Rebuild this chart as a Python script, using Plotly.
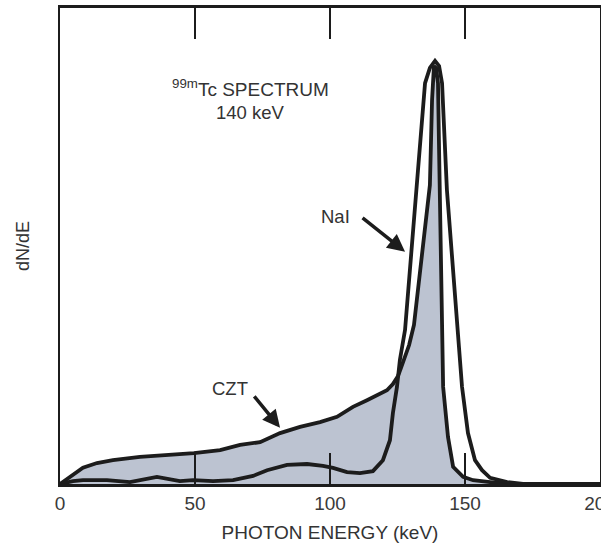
import plotly.graph_objects as go

# Tick labels / categories
x_ticks = [0, 50, 100, 150, 200]
x_tick_labels = ["0", "50", "100", "150", "200"]

# NaI spectrum (energy keV, relative dN/dE)
nai_energy = [0, 4.8, 8.5, 17.4, 25.9, 35.9, 44.4, 49.3, 56.7, 64.1, 71.5, 76.7, 84.1,
              91.5, 97.4, 101.1, 106.3, 111.1, 115.9, 119.6, 122.2, 123.3, 124.8, 125.9,
              127.8, 130.0, 132.2, 135.2, 137.0, 138.9, 140.4, 141.5, 143.3, 145.2, 147.0,
              148.9, 151.1, 153.7, 156.3, 159.3, 165.6, 171.5, 200]
nai_counts = [0, 0.006, 0.008, 0.008, 0.004, 0.015, 0.006, 0.008, 0.006, 0.008, 0.017,
              0.029, 0.040, 0.042, 0.038, 0.034, 0.025, 0.023, 0.027, 0.050, 0.092, 0.149,
              0.204, 0.261, 0.324, 0.481, 0.628, 0.842, 0.874, 0.889, 0.878, 0.842, 0.618,
              0.481, 0.345, 0.204, 0.107, 0.050, 0.029, 0.013, 0.004, 0, 0]

# CZT spectrum (energy keV, relative dN/dE)
czt_energy = [0, 4.8, 8.5, 13.7, 19.6, 29.6, 41.9, 49.6, 59.3, 66.7, 74.1, 81.5, 88.9,
              96.3, 102.6, 108.5, 113.7, 121.1, 123.3, 125.2, 126.3, 129.3, 131.1, 134.1,
              137.0, 137.8, 138.5, 139.3, 140.0, 140.4, 140.7, 141.5, 141.9, 143.7, 145.6,
              149.3, 153.0, 159.3, 166.7, 200]
czt_counts = [0, 0.019, 0.034, 0.044, 0.050, 0.057, 0.061, 0.065, 0.071, 0.082, 0.088,
              0.107, 0.120, 0.130, 0.141, 0.162, 0.176, 0.197, 0.210, 0.227, 0.244, 0.292,
              0.334, 0.481, 0.628, 0.807, 0.878, 0.874, 0.842, 0.702, 0.618, 0.324, 0.204,
              0.099, 0.036, 0.015, 0.008, 0.004, 0, 0]

INK = "#1c1c1c"
TXT = "#333333"
FONT = "Liberation Sans, Arial, Helvetica, sans-serif"

fig = go.Figure()
fig.add_trace(go.Scatter(x=czt_energy, y=czt_counts, mode="lines", fill="tozeroy",
                         fillcolor="#bcc3d1", line=dict(color=INK, width=3.8),
                         name="CZT", showlegend=False))
fig.add_trace(go.Scatter(x=nai_energy, y=nai_counts, mode="lines",
                         line=dict(color=INK, width=3.8), name="NaI", showlegend=False))

annotations = [
    dict(x=70.4, y=0.832, text="<sup>99m</sup>Tc SPECTRUM", showarrow=False,
         font=dict(family=FONT, size=19, color=TXT)),
    dict(x=70.7, y=0.781, text="140 keV", showarrow=False,
         font=dict(family=FONT, size=18.5, color=TXT)),
    dict(x=102.2, y=0.563, text="NaI", showarrow=False,
         font=dict(family=FONT, size=18.5, color=TXT)),
    dict(x=63.0, y=0.200, text="CZT", showarrow=False,
         font=dict(family=FONT, size=18.5, color=TXT)),
    dict(x=127.8, y=0.488, text="", showarrow=True, ax=-44, ay=-35,
         arrowhead=2, arrowsize=1, arrowwidth=3.5, arrowcolor=INK, standoff=0),
    dict(x=81.5, y=0.118, text="", showarrow=True, ax=-27, ay=-33,
         arrowhead=2, arrowsize=1, arrowwidth=3.5, arrowcolor=INK, standoff=0),
]
for a in annotations:
    a.setdefault("xref", "x")
    a.setdefault("yref", "y")
fig.update_layout(annotations=annotations)

fig.update_layout(
    width=601, height=544,
    margin=dict(l=60, r=1, t=8, b=60, autoexpand=False),
    paper_bgcolor="white", plot_bgcolor="white",
    font=dict(family=FONT, color=TXT),
    xaxis=dict(range=[0, 200], tickvals=x_ticks, ticktext=x_tick_labels,
               ticks="inside", ticklen=31, tickwidth=2, tickcolor=INK,
               showline=True, linewidth=2.5, linecolor=INK, mirror="ticks",
               showgrid=False, zeroline=False, ticklabeloverflow="allow",
               automargin=False,
               tickfont=dict(family=FONT, size=19, color="#3a3a3a"),
               title=dict(text="PHOTON ENERGY (keV)", standoff=14,
                          font=dict(family=FONT, size=19, color=TXT))),
    yaxis=dict(range=[0, 1], showline=True, linewidth=2, linecolor=INK, mirror=True,
               ticks="", showticklabels=False, showgrid=False, zeroline=False,
               automargin=False,
               title=dict(text="dN/dE", standoff=24,
                          font=dict(family=FONT, size=18, color=TXT))),
)

fig.write_html("out.html")
